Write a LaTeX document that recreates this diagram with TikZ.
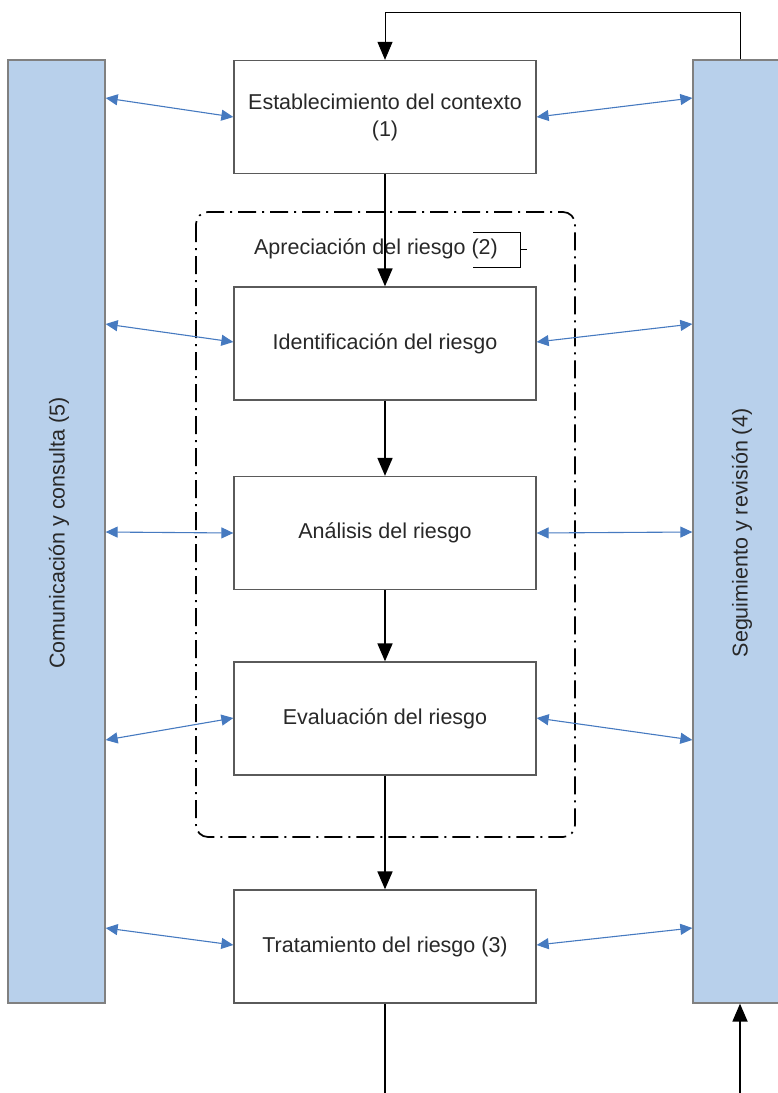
\documentclass[tikz,border=0pt]{standalone}
\usepackage{fontspec}
\setmainfont{Liberation Sans}
\usetikzlibrary{arrows.meta}
\definecolor{barblue}{RGB}{184,208,235}
\definecolor{arrblue}{RGB}{70,122,192}
\definecolor{edgegray}{RGB}{90,90,90}
\definecolor{txtgray}{RGB}{40,40,40}
\begin{document}
\begin{tikzpicture}[x=1pt,y=-1pt,
  every node/.style={font=\fontsize{21.5}{27}\selectfont,text=txtgray},
  procbox/.style={draw=edgegray,line width=1.3pt,fill=white,minimum width=302pt,minimum height=113pt,align=center,inner sep=0pt},
  bar/.style={draw=gray,line width=1.3pt,fill=barblue,inner sep=0pt},
  flow/.style={line width=1.8pt,-{Triangle[length=18pt,width=15pt]}},
  blink/.style={draw=arrblue,line width=1.1pt,{Triangle[length=12pt,width=11pt]}-{Triangle[length=12pt,width=11pt]}},
  dashdot/.style={line width=1.7pt,dash pattern=on 18pt off 6pt on 2pt off 6pt,rounded corners=12pt}
]
\useasboundingbox (0,0) rectangle (777,1093);
% side bars
\node[bar,minimum width=97pt,minimum height=943pt] (lb) at (56.5,531.5) {};
\node[bar,minimum width=86pt,minimum height=943pt] (rb) at (736,531.5) {};
\node[rotate=90] (lbt) at (59,533) {Comunicación y consulta (5)};
\node[rotate=90] (rbt) at (742,533) {Seguimiento y revisión (4)};
% assessment frame
\draw[dashdot] (196,212) rectangle (575,837);
\node (apl) at (376,249) {Apreciación del riesgo (2)};
\draw[line width=0.8pt] (473,232) -- (520,232) -- (520,267) -- (473,267);
\draw[line width=0.8pt] (520,249.5) -- (527,249.5);
% process boxes
\node[procbox] (b1) at (385,117) {Establecimiento del contexto\\(1)};
\node[procbox] (b2) at (385,343.5) {Identificación del riesgo};
\node[procbox] (b3) at (385,533) {Análisis del riesgo};
\node[procbox] (b4) at (385,718.5) {Evaluación del riesgo};
\node[procbox] (b5) at (385,946.5) {Tratamiento del riesgo (3)};
% main flow
\draw[flow] (b1.south) -- (b2.north);
\draw[flow] (b2.south) -- (b3.north);
\draw[flow] (b3.south) -- (b4.north);
\draw[flow] (b4.south) -- (b5.north);
\coordinate (bot) at (385,1093);
\draw[line width=1.8pt] (b5.south) -- (bot);
% feedback top
\coordinate (fa) at (740,12);
\coordinate (fb) at (385,12);
\draw[line width=1pt,-{Triangle[length=18pt,width=15pt]}] (rb.north -| fa) -- (fa) -- (fb) -- (b1.north);
% bottom right input
\coordinate (bin) at (740,1093);
\draw[flow] (bin) -- (rb.south -| bin);
% blue links
\draw[blink] (lb.east |- 0,98) -- (b1.west |- 0,117);
\draw[blink] (b1.east |- 0,117) -- (rb.west |- 0,98);
\draw[blink] (lb.east |- 0,324) -- (b2.west |- 0,342);
\draw[blink] (b2.east |- 0,342) -- (rb.west |- 0,324);
\draw[blink] (lb.east |- 0,532) -- (b3.west |- 0,533);
\draw[blink] (b3.east |- 0,533) -- (rb.west |- 0,532);
\draw[blink] (lb.east |- 0,740) -- (b4.west |- 0,718);
\draw[blink] (b4.east |- 0,718) -- (rb.west |- 0,740);
\draw[blink] (lb.east |- 0,928) -- (b5.west |- 0,945);
\draw[blink] (b5.east |- 0,945) -- (rb.west |- 0,928);
\end{tikzpicture}
\end{document}
